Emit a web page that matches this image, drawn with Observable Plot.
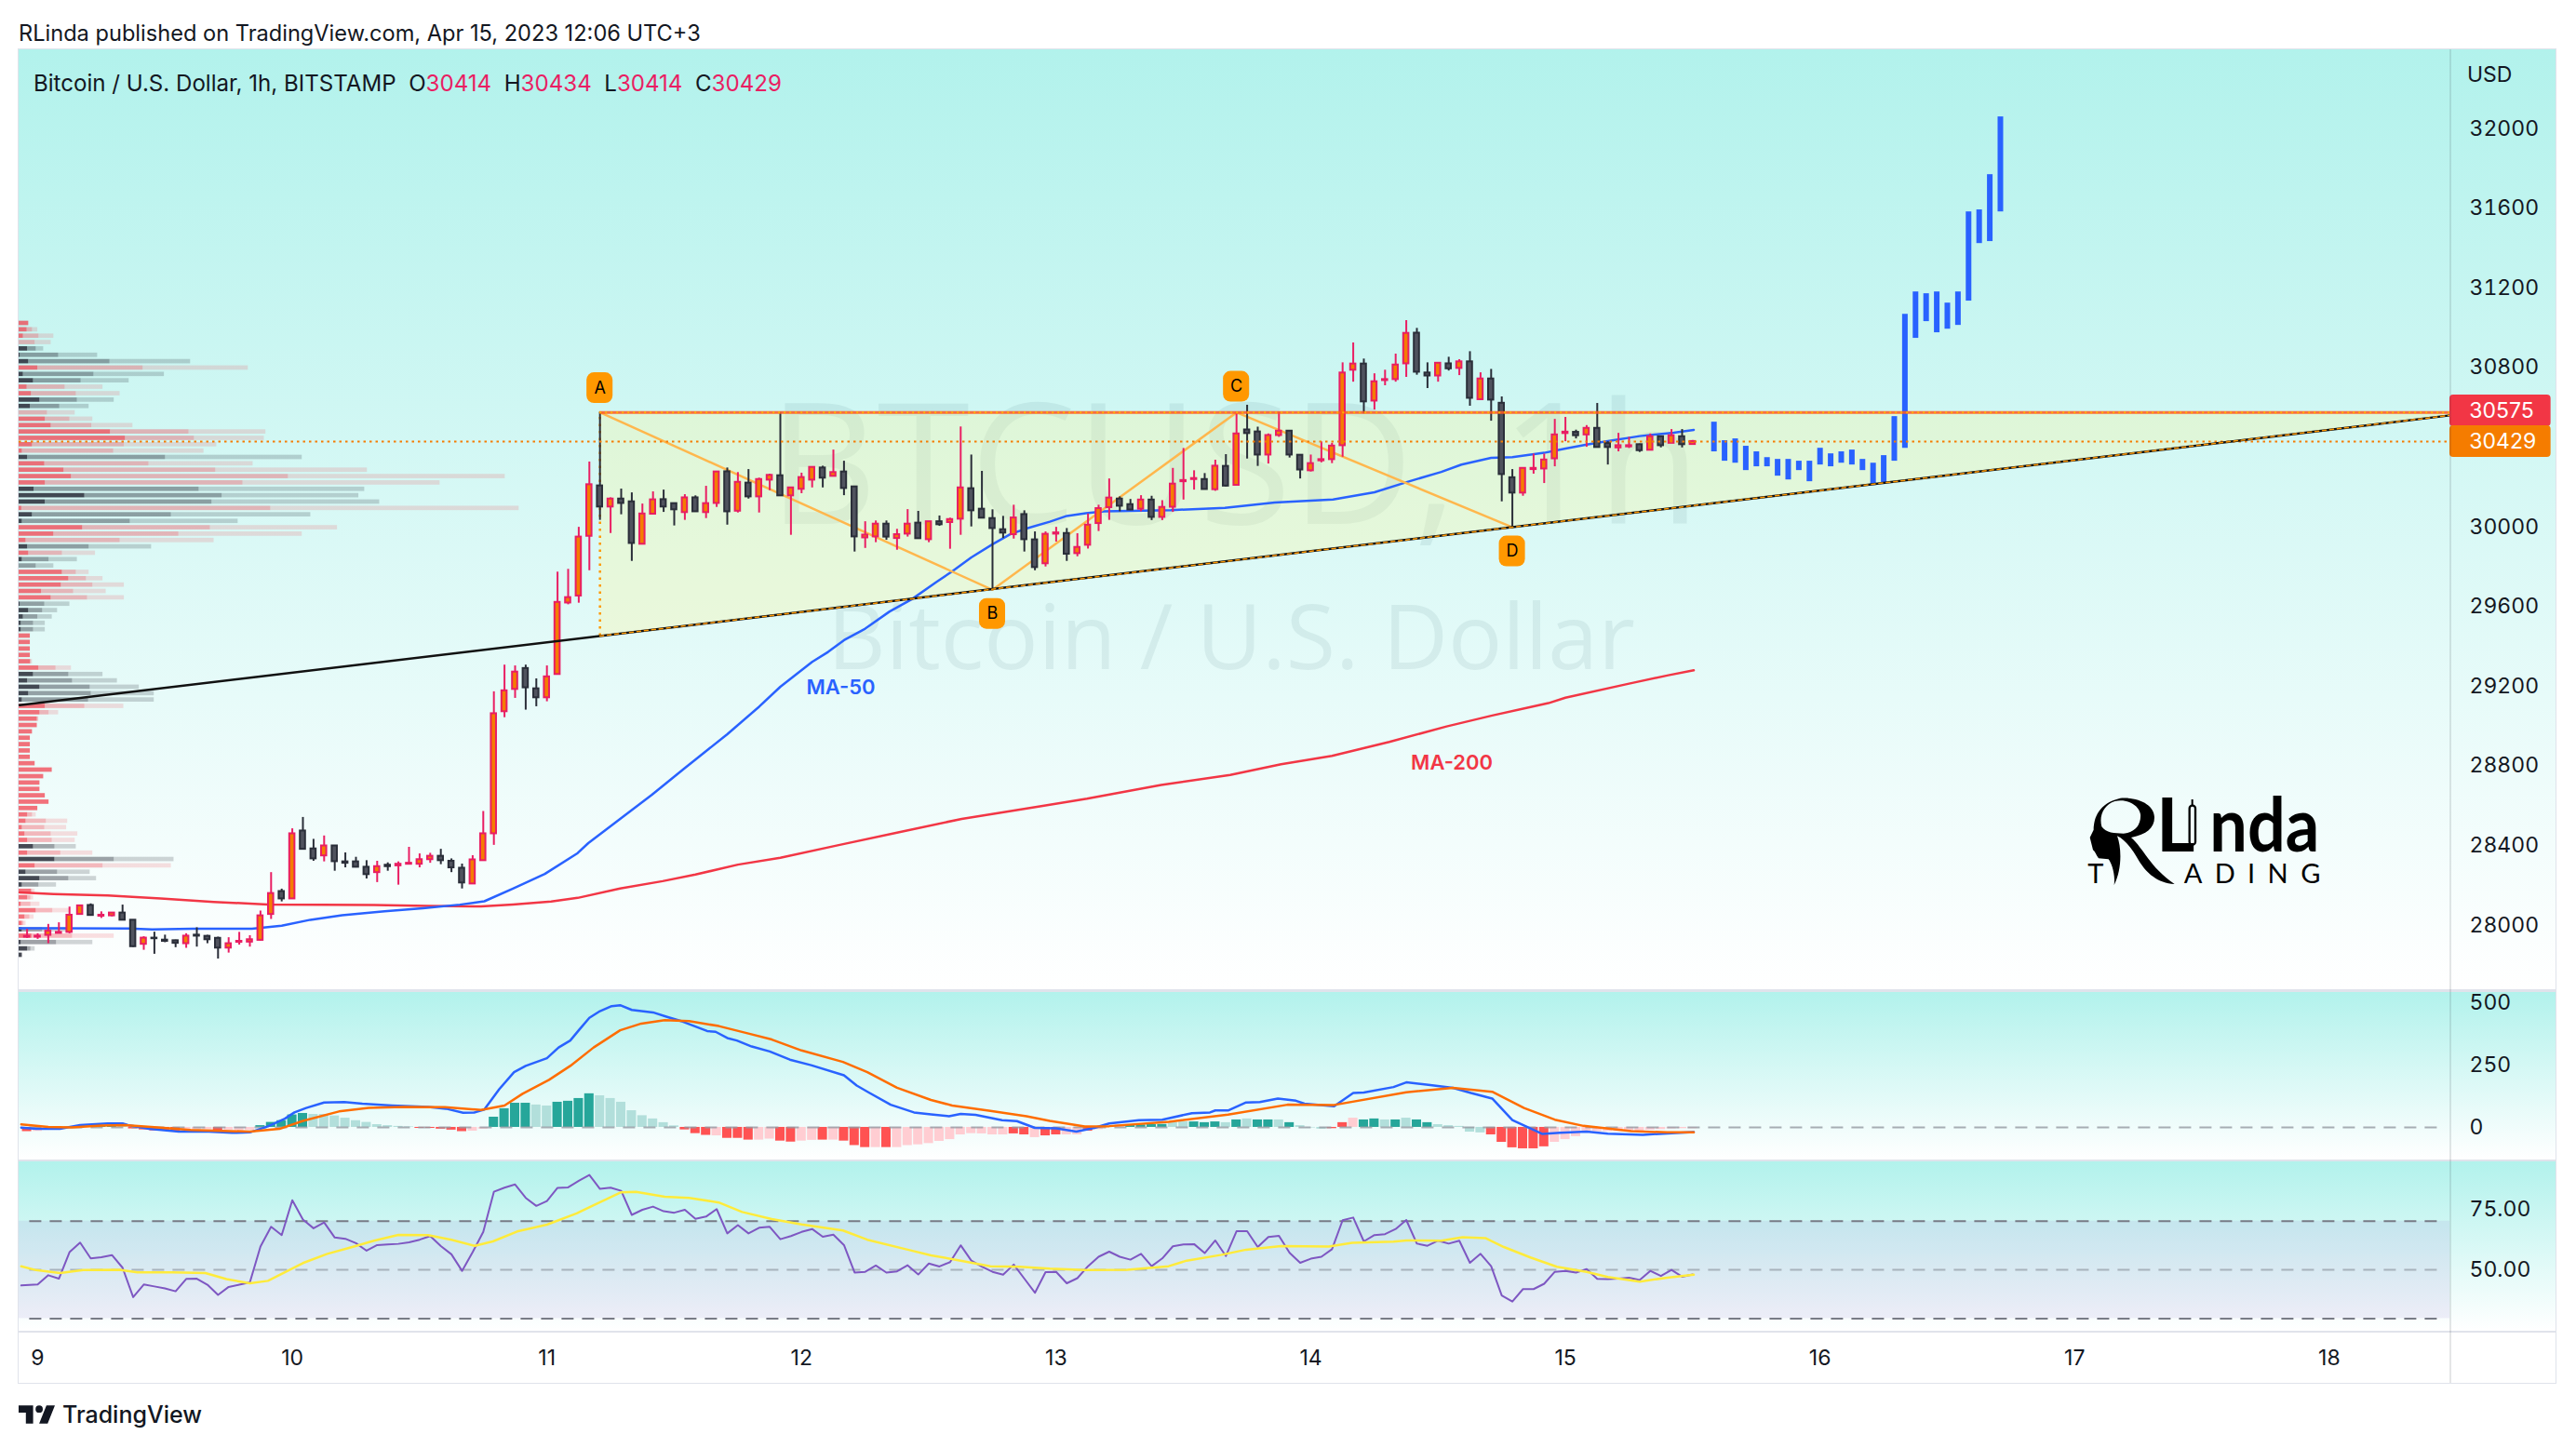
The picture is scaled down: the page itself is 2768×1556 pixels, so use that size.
<!DOCTYPE html>
<html><head><meta charset="utf-8">
<script src="https://cdn.jsdelivr.net/npm/d3@7"></script>
<script src="https://cdn.jsdelivr.net/npm/@observablehq/plot@0.6"></script>
<style>
html,body{margin:0;padding:0;background:#fff;width:2768px;height:1556px;overflow:hidden;font-family:Inter,sans-serif;color:#131722}
.abs{position:absolute;white-space:pre}
#frame{position:absolute;left:19px;top:52px;width:2728px;height:1435px;background:#e0e3eb}
#sep{position:absolute;left:2632px;top:53px;width:2px;height:1433px;background:rgba(42,46,57,.12)}
.pink{color:#e91e63}
</style></head><body>
<div id="frame"></div>
<div id="root"></div>
<div id="sep"></div>
<div class="abs" style="left:20px;top:21px;font-size:23.6px">RLinda published on TradingView.com, Apr 15, 2023 12:06 UTC+3</div>
<div class="abs" style="left:36px;top:75px;font-size:24.1px">Bitcoin / U.S. Dollar, 1h, BITSTAMP  O<span class="pink">30414</span>  H<span class="pink">30434</span>  L<span class="pink">30414</span>  C<span class="pink">30429</span></div>
<div class="abs" style="left:2651px;top:66px;font-size:23px">USD</div>
<svg class="abs" style="left:20px;top:1510px" width="39" height="20" viewBox="2 6 30 15"><path fill="#131722" d="M14 6H2v6h6v9h6V6zm12 15h-7l6-15h7l-6 15zm-7-9a3 3 0 1 0 0-6 3 3 0 0 0 0 6z"/></svg>
<div class="abs" style="left:67px;top:1505px;font-size:25px;font-weight:500">TradingView</div>
<svg class="abs" style="left:2235px;top:825px" width="285" height="135" viewBox="0 -60 855 405">
  <path fill="#000" fill-rule="evenodd" d="M130 38C190 34 240 60 240 100C240 135 215 155 165 165C205 200 225 260 305 315C250 312 215 280 190 240C170 205 150 175 120 160C135 200 135 270 110 318C115 280 100 245 92 235L60 232C52 222 50 210 42 205L32 165L44 140C45 100 60 55 130 38ZM112 48C80 58 60 92 70 130C85 150 110 152 140 152C175 150 198 125 195 90C190 60 150 38 112 48Z"/>
  <text x="246" y="210" font-family="Lato,sans-serif" font-weight="700" font-size="239" fill="#000">L</text>
  <rect x="353" y="62" width="19" height="126" rx="9" fill="none" stroke="#000" stroke-width="7"/>
  <path d="M362 42V62M362 188V208" stroke="#000" stroke-width="6"/>
  <text x="418" y="210" font-family="Lato,sans-serif" font-weight="700" font-size="239" textLength="354" lengthAdjust="spacingAndGlyphs" fill="#000">nda</text>
  <text x="25" y="313" font-family="Lato,sans-serif" font-size="87" fill="#000">T</text>
  <text x="335" y="313" font-family="Lato,sans-serif" font-size="87" textLength="440" fill="#000">ADING</text>
</svg>
<script>
// ---------- candles, Apr 9 to Apr 15 (hours after Apr 9 00:00) ----------
const candleFirstHour = -1;
const candleOpen = [27940,27940,27949,27959,27964,28054,28099,28045,28047,28061,28025,27904,27935,27925,27922,27907,27950,27944,27934,27885,27914,27915,27924,28054,28169,28132,28473,28383,28348,28398,28318,28318,28291,28264,28301,28298,28306,28306,28329,28346,28321,28286,28207,28324,28459,29072,29184,29289,29187,29142,29259,29618,29653,29953,30206,30100,30140,30126,29913,30064,30137,30117,30072,30146,30072,30118,30277,30079,30220,30151,30235,30257,30156,30189,30235,30296,30254,30276,30201,29945,29950,30014,29942,29964,30019,29936,30026,30022,30039,30192,30089,30042,29986,29961,30062,29935,29815,29964,29967,29866,29908,30017,30097,30140,30112,30089,30135,30048,30099,30227,30238,30238,30187,30304,30209,30487,30477,30361,30459,30481,30360,30282,30332,30338,30408,30787,30818,30632,30735,30740,30819,30973,30773,30758,30819,30796,30829,30639,30743,30621,30247,30170,30288,30291,30342,30469,30475,30462,30495,30419,30397,30402,30413,30385,30453,30420,30453,30414];
const candleHigh = [27979,27957,28004,28012,28091,28101,28107,28067,28062,28101,28025,27942,27965,27950,27925,27957,27987,27949,27940,27937,27964,27947,28071,28264,28181,28484,28541,28431,28448,28399,28363,28341,28324,28321,28313,28318,28391,28358,28361,28381,28333,28307,28349,28571,29172,29306,29302,29306,29237,29302,29773,29787,29998,30326,30575,30146,30190,30171,30115,30176,30185,30117,30162,30156,30204,30276,30296,30273,30288,30245,30265,30575,30196,30270,30299,30305,30386,30330,30201,30026,30030,30030,29988,30087,30078,30026,30055,30044,30502,30361,30279,30086,30053,30109,30081,29975,29975,29998,29992,29966,30065,30109,30241,30151,30138,30157,30154,30132,30294,30394,30282,30268,30335,30363,30575,30611,30501,30467,30576,30481,30360,30361,30427,30420,30824,30924,30843,30769,30787,30868,31036,30997,30824,30824,30852,30840,30880,30774,30791,30653,30288,30297,30366,30366,30540,30550,30486,30509,30620,30428,30470,30450,30416,30467,30455,30489,30489,30434];
const candleLow = [27934,27929,27907,27957,27957,28052,28045,28034,28042,28024,27889,27874,27854,27912,27887,27884,27890,27907,27830,27860,27900,27890,27920,28029,28117,28131,28379,28321,28318,28271,28288,28288,28232,28214,28271,28201,28306,28288,28311,28304,28264,28182,28207,28324,28401,29042,29139,29080,29097,29122,29259,29609,29617,29780,30033,29967,30061,29827,29913,30062,30073,30005,30033,30076,30042,30098,30009,30070,30140,30070,30182,30156,29958,30167,30196,30196,30254,30157,29874,29892,29921,29933,29883,29949,29941,29921,30003,29888,29958,30000,30044,29684,29942,29939,29874,29780,29799,29924,29827,29850,29889,29977,30033,30076,30082,30076,30032,30032,30073,30135,30185,30188,30179,30201,30209,30341,30304,30316,30450,30346,30241,30276,30322,30318,30350,30727,30568,30587,30709,30727,30751,30762,30695,30727,30783,30760,30606,30635,30531,30126,29998,30154,30265,30218,30302,30428,30442,30400,30399,30311,30377,30394,30374,30385,30397,30420,30397,30414];
const candleClose = [27944,27945,27970,27964,28050,28097,28049,28050,28061,28025,27892,27935,27932,27919,27909,27945,27945,27927,27885,27907,27919,27927,28047,28159,28132,28459,28381,28333,28398,28319,28311,28291,28254,28294,28294,28306,28311,28329,28346,28324,28288,28212,28328,28459,29062,29177,29271,29192,29142,29247,29621,29645,29949,30212,30100,30140,30118,29917,30065,30136,30100,30086,30146,30076,30117,30276,30076,30224,30151,30238,30259,30156,30196,30248,30299,30245,30273,30193,29950,29959,30014,29949,29961,30014,29941,30026,30011,30037,30196,30081,30044,29992,29969,30045,29936,29796,29963,29970,29863,29897,30009,30092,30145,30104,30085,30135,30048,30098,30215,30233,30243,30188,30305,30205,30467,30469,30361,30459,30481,30361,30286,30318,30338,30406,30773,30818,30628,30729,30740,30813,30972,30777,30758,30822,30794,30829,30646,30743,30637,30263,30170,30294,30294,30336,30462,30476,30458,30495,30399,30399,30408,30408,30383,30453,30408,30458,30413,30429];

// ---------- forecast bars (blue) ----------
const forecastHours = [158,159,160,161,162,163,164,165,166,167,168,169,170,171,172,173,174,175,176,177,178,179,180,181,182,183,184,185];
const forecastHigh = [30526,30433,30442,30405,30377,30348,30339,30339,30330,30330,30395,30367,30377,30386,30339,30320,30358,30554,31068,31180,31171,31180,31124,31180,31582,31592,31769,32059];
const forecastLow  = [30377,30330,30320,30283,30302,30302,30255,30236,30283,30227,30311,30302,30320,30311,30283,30208,30221,30330,30395,30947,31031,30975,30993,31012,31134,31423,31433,31582];

// ---------- moving averages ----------
const ma50Hours = [-1.7,1.5,8.6,10.8,14.6,20.2,23,25.7,28.7,32.7,36.3,39.8,42.1,44.8,47.8,50.9,51.9,54.9,57.9,60.9,65,68,70,73,74.5,76,78,80.3,82.4,84.7,86.2,88,90,91.7,93.4,95.4,97,98.8,100.5,101.7,106.8,111.9,116.6,122.1,126,129.1,132.3,134.2,137,139,142,143.9,146,148,151,154.2,156.1];
const ma50Values = [27984,27984,27983,27979,27982,27982,27997,28027,28050,28070,28085,28103,28120,28184,28257,28362,28412,28534,28655,28785,28959,29097,29197,29322,29372,29431,29489,29575,29637,29723,29777,29847,29913,29964,29995,30026,30055,30069,30078,30079,30084,30096,30123,30138,30174,30226,30276,30313,30347,30350,30372,30392,30413,30431,30456,30473,30487];
const ma200Hours = [-1.7,1.5,6.6,11.6,16.6,21.7,26.7,31.7,36.8,41.8,44.8,48.4,50.9,54.9,58.9,62,66,70,75.4,81,87.1,94.6,98.9,105.9,112.4,117.2,122,127.4,132.8,137.1,142.4,144,150,153.7,156.1];
const ma200Values = [28164,28156,28149,28134,28117,28104,28102,28101,28097,28094,28104,28119,28137,28184,28221,28254,28304,28338,28401,28465,28534,28598,28635,28704,28754,28808,28850,28920,28998,29053,29115,29142,29213,29255,29280];

// ---------- drawing tools ----------
const trendHours = [-1.7,227.37];
const trendPrices = [29105,30560];
const triangleHours = [53,227.37];
const triangleUpper = [30575,30575];
const triangleLower = [29452,30560];
const abcdLetters = ["A","B","C","D"];
const abcdHours = [53,90,113,139];
const abcdPrices = [30575,29684,30575,29998];
const abcdLabelPrices = [30697,29563,30704,29877];
const lastPrice = 30429;
const resistance = 30575;

// ---------- volume profile (100 rows) ----------
const vpPrices = [31022,30990,30958,30926,30894,30862,30830,30798,30766,30734,30702,30669,30637,30605,30573,30541,30509,30477,30445,30413,30381,30349,30317,30285,30253,30221,30189,30157,30125,30093,30061,30028,29996,29964,29932,29900,29868,29836,29804,29772,29740,29708,29676,29644,29612,29580,29548,29516,29484,29452,29420,29387,29355,29323,29291,29259,29227,29195,29163,29131,29099,29067,29035,29003,28971,28939,28907,28875,28843,28811,28779,28746,28714,28682,28650,28618,28586,28554,28522,28490,28458,28426,28394,28362,28330,28298,28266,28234,28202,28170,28138,28105,28073,28041,28009,27977,27945,27913,27881,27849];
const vpKinds = "rrrrdddrddrrddrrrrrrrdrrrrdddrddrrrdrddrrrrrdddddrrrrrrdddddrrrrrrrrrrrrrrrrrrrrrrdrdrdddrrrrrrdrddd".split("");
const vpFront = [18,15,8,0,16,2,18,35,8,27,15,23,39,21,0,49,60,171,199,25,6,16,48,84,98,49,28,123,49,5,25,6,119,65,13,16,18,6,0,81,93,79,42,60,2,18,8,4,4,21,21,21,21,21,37,27,16,39,18,6,49,39,34,34,25,21,21,21,21,30,62,46,39,39,49,56,35,16,13,6,11,16,27,16,67,30,13,39,6,23,16,4,32,11,6,6,24,4,16,6];
const vpMid = [18,25,37,30,32,74,170,232,140,116,86,107,109,76,53,95,136,318,328,197,177,274,243,368,504,419,337,380,361,471,285,208,358,299,189,131,81,56,32,107,126,138,102,128,48,44,35,27,27,21,21,21,21,23,69,93,100,133,135,130,123,56,36,34,25,21,21,21,21,30,62,46,39,39,49,56,35,25,51,48,60,62,67,78,178,157,72,93,37,25,22,22,63,20,9,44,100,70,22,6];
const vpTotal = [18,35,65,60,46,147,321,429,272,206,157,189,178,131,105,138,213,462,459,370,346,530,438,652,910,788,647,636,675,936,546,410,596,530,365,248,143,109,65,131,157,197,163,197,95,72,62,49,49,21,21,21,21,25,98,157,184,225,253,253,196,74,37,34,25,21,21,21,21,30,62,46,39,39,49,56,35,32,91,89,110,105,107,138,290,285,133,145,70,30,27,39,94,28,13,90,178,138,30,6];

// ---------- MACD pane ----------
const macdHours = [-1.55,-0.15,2.1,4,6.6,8,8.5,10.5,13.3,16.1,18.3,20,21.7,23.3,24.2,25.3,27,28.9,30.6,33.4,36.8,38.5,40.1,41.2,42.1,43.5,44.9,46,48,49.1,50.2,51,52,53,54.1,54.9,56,58,59.4,60.8,63.1,63.9,65,65.9,67.3,69,70.9,72.9,76,77.2,78.3,80.4,82.6,84.2,85.9,87,88.4,90.9,92.3,94,96,97.9,99.6,101,103.8,106,108.8,110.5,111,112.2,113.9,115.2,116.9,118.6,119.4,122.2,124,125,127.8,129,130.9,133.4,135.1,137.1,139,141.8,143.5,146,148,151.3,153.6,156.1];
const macdValues = [-1,-6,-6,9,16,16,9,-6,-17,-17,-22,-20,4,35,60,78,100,102,95,88,82,75,59,60,72,153,222,247,278,321,349,390,440,467,487,491,472,462,443,425,387,384,359,349,325,305,272,250,209,168,141,91,60,52,45,54,50,29,25,-2,-4,-17,-2,16,29,31,57,60,68,68,100,102,116,107,95,85,138,140,162,181,172,159,138,116,29,-26,-22,-17,-25,-30,-24,-19];
const signalHours = [-1.55,1,3.2,6,8.2,11,14.4,20,22.8,25,28.4,31.2,34.5,38.4,41.8,44,45.7,48.2,50.2,52.4,54.9,56.9,59.1,61.4,64.2,67,69.2,72,75.9,78.2,81,84.2,86.2,89.8,93.2,95.4,98.7,101,106.6,112.2,117.8,122.2,129,133.4,137.1,140.1,143,145.7,150.2,153.6,156.1];
const signalValues = [12,2,0,7,9,1,-10,-17,-6,26,64,78,82,81,70,88,135,191,247,321,390,417,431,427,407,377,353,309,263,222,159,110,88,66,45,26,4,5,22,51,91,90,141,159,143,78,31,6,-15,-20,-20];
const histFirstHour = -1;
const histValues = [-17,-16,-11,-6,1,4,5,6,7,6,-6,-10,-14,-15,-15,-7,-9,-9,-14,-11,-14,-11,7,20,27,50,56,52,52,46,37,27,20,11,7,4,2,-4,-4,-7,-11,-17,-15,-7,41,75,97,97,90,86,101,105,116,135,127,116,101,67,47,34,19,6,-10,-25,-32,-34,-44,-44,-51,-51,-47,-55,-59,-55,-52,-51,-51,-55,-73,-81,-81,-81,-81,-73,-70,-65,-56,-49,-30,-25,-26,-30,-30,-26,-30,-41,-34,-30,-30,-30,-15,-9,4,10,10,10,11,12,19,22,22,19,22,19,30,34,30,30,30,19,7,-2,-7,-5,19,37,30,34,30,30,37,30,19,11,7,4,-19,-22,-30,-60,-82,-86,-86,-78,-60,-49,-37,-22,-17,-17,-17,-15,-15,-11,-9,-6,-5,-5];
const histKinds = ("Rrrr"+"GGGGG"+"g"+"RRRRR"+"rrr"+"R"+"rrr"+"GGGGG"+"gggggggggg"+"RRRRR"+"rr"+"GGGG"+"gg"+"GGGG"+"gggggggg"+"RRR"+"r"+"RRR"+"rr"+"RR"+"rr"+"R"+"r"+"RRR"+"r"+"R"+"rrrrrrrrrrr"+"RR"+"r"+"RR"+"rr"+"R"+"rrr"+"GGGG"+"gg"+"GGG"+"g"+"G"+"g"+"GG"+"g"+"G"+"ggg"+"RR"+"r"+"GG"+"g"+"G"+"g"+"GG"+"ggggg"+"RRRRRR"+"rrrrrrrrrrrrrrrr").split("");

// ---------- RSI pane ----------
const rsiHours = [-1.55,0,1,2,3,4,5,6,7,8,9,10,11,12,13,14,15,16,17,18,19,20,21,22,23,24,25,26,27,28,29,30,31,32,33,34,35,36,37,38,39,40,41,42,43,44,45,46,47,48,49,50,51,52,53,54,55,56,57,58,59,60,61,62,63,64,65,66,67,68,69,70,71,72,73,74,75,76,77,78,79,80,81,82,83,84,85,86,87,88,89,90,91,92,93,94,95,96,97,98,99,100,101,102,103,104,105,106,107,108,109,110,111,112,113,114,115,116,117,118,119,120,121,122,123,124,125,126,127,128,129,130,131,132,133,134,135,136,137,138,139,140,141,142,143,144,145,146,147,148,149,150,151,152,153,154,155,156];
const rsiValues = [43.6,44,47.8,46.4,57.3,61.2,54.7,55.2,56.1,50.9,38.8,44,43.2,42.4,41.2,46.3,46.4,43.9,39.7,43,43.9,44.9,59.6,67.7,64.3,78.6,70.7,67.1,69.5,63.3,62.8,61,57.9,60.2,60.5,60.7,61.3,62.4,63.9,59.8,56.4,49.6,57.3,65.6,82.1,83.8,85.1,79.6,76.3,78.3,83.7,83.9,86.6,89,83.3,83.8,82.5,72.6,74.7,76,74.1,73.5,74.7,71,71.9,75,65,68.4,65,67.3,67.7,62.6,63.9,65.6,66.8,63.6,64.5,60.2,48.9,49.2,51.8,48.9,49.4,51.9,48.1,52.6,51.4,53.2,60.1,53.8,51.3,49.2,48,52.2,46.4,40.6,49.1,49.2,44.5,46.6,51.5,55.4,57.5,55.4,54.2,56.6,51.5,54.7,59.7,60.5,60.6,56.9,62.1,55.7,65.9,65.9,59.4,63.5,64,57,52.9,54.6,55.4,58.5,70.4,71.5,61.7,64.3,64.7,66.8,70.5,60.8,59.9,62,60.8,62,52.9,56.6,51.5,39.5,37,42.1,42.1,44.3,49.2,49.6,48.9,50.3,46.3,46.2,46.4,46.8,45.8,49.6,47.5,50,47.2,48.1];
const rsiMaHours = [-1.55,-0.15,2.1,4.3,7.7,9.4,12.7,15.8,17.8,20,21.7,23.3,25,27.3,29.5,31.7,34,36.8,39,41.2,42.9,45.2,48,50.8,52.4,55,56.4,59.1,61.4,64.2,66.4,69.2,72,75.9,78.2,82.1,84.2,87,89.8,92.6,95.4,98.7,102.7,106.6,108.3,111.6,113.9,117.2,121.7,123.9,127.8,129,132.3,134.3,136.5,138.2,140.7,143.2,146,148,151,153.6,156.1];
const rsiMaValues = [51.5,49.9,48.7,49.9,50,49,49,48.7,46.2,44.5,45.5,49,52.8,56.6,59.2,62,64.4,64.3,62.4,59.9,61.7,65.8,68.6,73.2,76.6,81.9,82.1,80.1,79.6,77.7,73.8,70.9,68.7,66.2,62.4,58.2,56,53.8,51.5,51.3,50.5,49.9,50,51.5,53.8,56.2,58.3,59.8,59.6,61.1,61.6,62.1,62,63.4,63,59.4,55.1,51.3,49.2,47.1,45.2,46.8,48];

// ---------- axes ----------
const priceTicks = [28000,28400,28800,29200,29600,30000,30400,30800,31200,31600,32000];
const macdTicks = [0,250,500];
const rsiTicks = [50,75];
const dayLabels = ["9","10","11","12","13","14","15","16","17","18"];
const dayHours = [0,24,48,72,96,120,144,168,192,216];
const boldDays = ["10","17"];

// ---------- build tables ----------
const xDomain = [-1.754,227.37];
const fontFamily = "Inter, sans-serif";
const candles = candleOpen.map((o,i)=>({h:candleFirstHour+i,o,hi:candleHigh[i],lo:candleLow[i],c:candleClose[i],up:candleClose[i]>=o}));
const forecast = forecastHours.map((h,i)=>({h,hi:forecastHigh[i],lo:forecastLow[i]}));
const ma50 = ma50Hours.map((h,i)=>({h,v:ma50Values[i]}));
const ma200 = ma200Hours.map((h,i)=>({h,v:ma200Values[i]}));
const trend = trendHours.map((h,i)=>({h,v:trendPrices[i]}));
const tri = triangleHours.map((h,i)=>({h,u:triangleUpper[i],l:triangleLower[i]}));
const abcd = abcdLetters.map((t,i)=>({t,h:abcdHours[i],v:abcdPrices[i],lv:abcdLabelPrices[i]}));
const volUnit = 19.86;
const vp = vpPrices.map((p,i)=>({p,k:vpKinds[i],a:vpFront[i],b:vpMid[i],c:vpTotal[i]}));
const vpFill = d=>d.k==="d"?"#2a2e39":"#f23645";
const volX = v=>xDomain[0]+v/volUnit;
const wickColor = d=>d.up?"#e91e63":"#2a2e39";

const paneStyle = (left,top,bg)=>({position:"absolute",left:left+"px",top:top+"px",background:bg,maxWidth:"none",fontFamily,color:"#131722",overflow:"visible"});
const gradient = "linear-gradient(to bottom,#b2f2ec,#ffffff)";
const base = {width:2726,marginLeft:0,marginRight:114,marginTop:0,marginBottom:0};
const axisOpts = {anchor:"right",tickSize:0,tickPadding:21,fontSize:23,label:null};

const mainPlot = Plot.plot({...base,height:1010,style:paneStyle(20,53,gradient),
  x:{domain:xDomain,axis:null},y:{domain:[27676,32396],axis:null},color:{type:"identity"},
  marks:[
    Plot.text(["BTCUSD, 1h"],{x:[112.8],y:[30285],fontFamily:"'Open Sans',sans-serif",fontSize:181,fill:"#1e4a5e",fillOpacity:.08}),
    Plot.text(["Bitcoin / U.S. Dollar"],{x:[112.5],y:[29430],fontFamily:"'Open Sans',sans-serif",fontSize:97,fill:"#1e4a5e",fillOpacity:.08}),
    Plot.areaY(tri,{x:"h",y1:"l",y2:"u",fill:"#fff59d",fillOpacity:.3}),
    Plot.rect(vp,{x1:volX(0),x2:d=>volX(d.a),y1:d=>d.p-11,y2:d=>d.p+11,fill:vpFill,fillOpacity:d=>d.k==="d"?.87:.7}),
    Plot.rect(vp,{x1:d=>volX(d.a),x2:d=>volX(d.b),y1:d=>d.p-11,y2:d=>d.p+11,fill:vpFill,fillOpacity:d=>d.k==="d"?.44:.35}),
    Plot.rect(vp,{x1:d=>volX(d.b),x2:d=>volX(d.c),y1:d=>d.p-11,y2:d=>d.p+11,fill:vpFill,fillOpacity:d=>d.k==="d"?.2:.16}),
    Plot.ruleX([triangleHours[0]],{y1:triangleLower[0],y2:triangleUpper[0],stroke:"#ff9800",strokeWidth:2.5,strokeDasharray:"2.5,5"}),
    Plot.line(ma200,{x:"h",y:"v",stroke:"#f23645",strokeWidth:2.5}),
    Plot.line(ma50,{x:"h",y:"v",stroke:"#2962ff",strokeWidth:2.5}),
    Plot.line(abcd,{x:"h",y:"v",stroke:"#ffb74d",strokeWidth:2.5}),
    Plot.ruleX(candles,{x:"h",y1:"lo",y2:"hi",stroke:wickColor,strokeWidth:2}),
    Plot.rect(candles,{x1:d=>d.h-.245,x2:d=>d.h+.245,y1:d=>Math.min(d.o,d.c),y2:d=>Math.max(d.o,d.c),fill:d=>d.up?"#f57c00":"#50535e",stroke:wickColor,strokeWidth:2}),
    Plot.ruleX(forecast,{x:"h",y1:"lo",y2:"hi",stroke:"#2962ff",strokeWidth:6}),
    Plot.ruleY([resistance],{x1:triangleHours[0],x2:xDomain[1],stroke:"#ff5722",strokeWidth:3,strokeOpacity:.85}),
    Plot.ruleY([resistance],{x1:triangleHours[0],x2:xDomain[1],stroke:"#ffb300",strokeWidth:2,strokeDasharray:"2,4"}),
    Plot.ruleY([lastPrice],{x1:xDomain[0],x2:xDomain[1],stroke:"#f57c00",strokeWidth:2,strokeDasharray:"2.5,4"}),
    Plot.line(trend,{x:"h",y:"v",stroke:"#111",strokeWidth:2.5}),
    Plot.line(tri,{x:"h",y:"l",stroke:"#ff9800",strokeWidth:1.5,strokeDasharray:"4,4"}),
    Plot.rect(abcd,{x1:d=>d.h-1.23,x2:d=>d.h+1.23,y1:d=>d.lv-77,y2:d=>d.lv+77,fill:"#ff9800",rx:8}),
    Plot.text(abcd,{x:"h",y:"lv",text:"t",fill:"#000",fontSize:18,fontFamily}),
    Plot.text(["MA-50"],{x:[75.7],y:[29195],fill:"#2962ff",fontSize:22,fontWeight:600,fontFamily}),
    Plot.text(["MA-200"],{x:[133.3],y:[28816],fill:"#f23645",fontSize:22,fontWeight:600,fontFamily}),
    Plot.axisY({...axisOpts,ticks:priceTicks,tickFormat:d3.format("d")}),
    Plot.rect([resistance],{x1:xDomain[1],x2:236.9,y1:30503,y2:30662,fill:"#f23645",rx:4}),
    Plot.rect([lastPrice],{x1:xDomain[1],x2:236.9,y1:30349,y2:30508,fill:"#f57c00",rx:4}),
    Plot.text(["30575"],{x:[229.2],y:[30582],textAnchor:"start",fill:"#fff",fontSize:23,fontFamily}),
    Plot.text(["30429"],{x:[229.2],y:[30429],textAnchor:"start",fill:"#fff",fontSize:23,fontFamily})
  ]});

const hist = histValues.map((v,i)=>({h:histFirstHour+i,v,k:histKinds[i]}));
const histColor = {G:"#26a69a",g:"#b2dfdb",R:"#ff5252",r:"#ffcdd2"};
const macdPlot = Plot.plot({...base,height:180,style:paneStyle(20,1066,gradient),
  x:{domain:xDomain,axis:null},y:{domain:[-131,542],axis:null},color:{type:"identity"},
  marks:[
    Plot.rect(hist,{x1:d=>d.h-.44,x2:d=>d.h+.44,y1:0,y2:"v",fill:d=>histColor[d.k]}),
    Plot.ruleY([0],{x1:xDomain[0]+1,x2:xDomain[1]-1,stroke:"#9598a1",strokeWidth:2,strokeDasharray:"13,9",strokeOpacity:.8}),
    Plot.line(macdHours.map((h,i)=>({h,v:macdValues[i]})),{x:"h",y:"v",stroke:"#2962ff",strokeWidth:2.5}),
    Plot.line(signalHours.map((h,i)=>({h,v:signalValues[i]})),{x:"h",y:"v",stroke:"#ff6d00",strokeWidth:2.5}),
    Plot.axisY({...axisOpts,ticks:macdTicks,tickFormat:d3.format("d")})
  ]});

const rsiPlot = Plot.plot({...base,height:182,style:paneStyle(20,1248,gradient),
  x:{domain:xDomain,axis:null},y:{domain:[24.8,94.4],axis:null},
  marks:[
    Plot.rect([0],{x1:xDomain[0],x2:xDomain[1],y1:30,y2:70,fill:"#7e57c2",fillOpacity:.1}),
    Plot.ruleY([70,30],{x1:xDomain[0]+1,x2:xDomain[1]-1,stroke:"#787b86",strokeWidth:2,strokeDasharray:"13,9"}),
    Plot.ruleY([50],{x1:xDomain[0]+1,x2:xDomain[1]-1,stroke:"#787b86",strokeOpacity:.5,strokeWidth:2,strokeDasharray:"13,9"}),
    Plot.line(rsiHours.map((h,i)=>({h,v:rsiValues[i]})),{x:"h",y:"v",stroke:"#7e57c2",strokeWidth:2}),
    Plot.line(rsiMaHours.map((h,i)=>({h,v:rsiMaValues[i]})),{x:"h",y:"v",stroke:"#ffeb3b",strokeWidth:2.5}),
    Plot.axisY({...axisOpts,ticks:rsiTicks,tickFormat:d3.format(".2f")})
  ]});

const timePlot = Plot.plot({...base,height:54,style:paneStyle(20,1432,"#fff"),
  x:{domain:xDomain,axis:null},
  marks:[
    Plot.text(dayLabels,{x:(d,i)=>dayHours[i],frameAnchor:"middle",fontSize:23,fontFamily,fill:"#131722",fontWeight:d=>boldDays.includes(d)?700:400})
  ]});

document.getElementById("root").append(mainPlot,macdPlot,rsiPlot,timePlot);
</script>
</body></html>
